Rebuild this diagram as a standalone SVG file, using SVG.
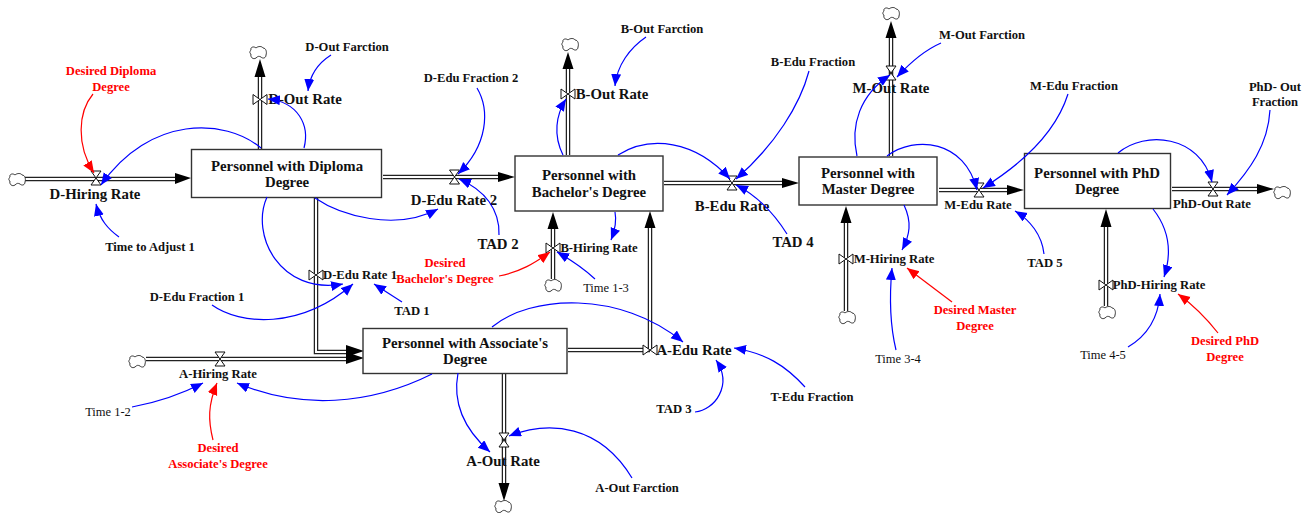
<svg xmlns="http://www.w3.org/2000/svg" width="1307" height="513" viewBox="0 0 1307 513">
<style>
text{font-family:"Liberation Serif","Times New Roman",serif;font-weight:bold;fill:#111;text-anchor:middle}
.st{font-size:14.8px}.lg{font-size:14.8px}.md{font-size:12.7px}.sm{font-size:12.6px}
.reg{font-size:12.5px;font-weight:normal}
.red{fill:#ff0000}
rect.box{fill:#fff;stroke:#333;stroke-width:1.4}
.po{fill:none;stroke:#222;stroke-width:4.5}
.pi{fill:none;stroke:#fff;stroke-width:2}
.b{fill:none;stroke:#0000ff;stroke-width:1.2;marker-end:url(#ab)}
.r{fill:none;stroke:#ff0000;stroke-width:1.2;marker-end:url(#ar)}
.ah{fill:#000}
.v{fill:#fff;stroke:#111;stroke-width:1}
.c{fill:#fff;stroke:#222;stroke-width:.9}
</style>
<defs>
<marker id="ab" markerUnits="userSpaceOnUse" markerWidth="13" markerHeight="11" refX="12" refY="5" orient="auto"><path d="M0,0L12,5L0,10z" fill="#0000ff"/></marker>
<marker id="ar" markerUnits="userSpaceOnUse" markerWidth="13" markerHeight="11" refX="12" refY="5" orient="auto"><path d="M0,0L12,5L0,10z" fill="#ff0000"/></marker>
<path id="vh" class="v" d="M-5,-7H5L-5,7H5z"/>
<path id="vv" class="v" d="M-7,-5V5L7,-5V5z"/>
<path id="cl" class="c" d="M-7,-3C-8,-6-4,-7-2,-5C0,-7 4,-7 5,-5C8,-5 9,-1 8,2C8,5 5,6 3,4C1,3 0,3-2,5C-5,7-8,4-7,1C-9,0-8,-2-7,-3z"/>
</defs>
<g id="pipes">
<path class="po" d="M25,179H178M260,149V76M383,177H500M568,155V68M553,279V228M664,183H784M650,350V228M891,156V37M939,190H1009M1172,189H1259M846,311V222M1106,306V226M316,198V352H348M146,359H348M568,350H650M504,374V484"/>
<path class="pi" d="M25,179H178M260,149V76M383,177H500M568,155V68M553,279V228M664,183H784M650,350V228M891,156V37M939,190H1009M1172,189H1259M846,311V222M1106,306V226M316,198V352H348M146,359H348M568,350H650M504,374V484"/>
<path class="ah" d="M175,173L191,178L175,184zM254.500,77L260,59L265.500,77zM498,172L515,177L498,182zM562.500,69L568,52L573.500,69zM547.500,229L553,212L558.500,229zM782,178L799,183L782,188zM644.500,228L650,211L655.500,228zM885.500,38L891,21L896.500,38zM1007,185L1024,190L1007,195zM1257,184L1274,189L1257,194zM840.500,223L846,206L851.500,223zM1100.500,227L1106,209L1111.500,227zM346,345L364,351L346,357zM346,352L364,358L346,364zM498.500,483L504,501L509.500,483z"/>
<use href="#cl" x="17" y="180"/><use href="#cl" x="258" y="53"/><use href="#cl" x="570" y="45"/><use href="#cl" x="553" y="286"/><use href="#cl" x="891" y="14"/><use href="#cl" x="1282" y="193"/><use href="#cl" x="847" y="318"/><use href="#cl" x="1107" y="313"/><use href="#cl" x="137" y="362"/><use href="#cl" x="503" y="507"/>
</g>
<g id="stock-diploma"><rect class="box" x="191.500" y="149.500" width="190" height="48"/><text class="st" x="287" y="171">Personnel with Diploma</text><text class="st" x="287" y="187">Degree</text></g>
<g id="stock-bachelor"><rect class="box" x="515" y="156" width="148" height="55"/><text class="st" x="589" y="180">Personnel with</text><text class="st" x="589" y="197">Bachelor's Degree</text></g>
<g id="stock-master"><rect class="box" x="799" y="157" width="138" height="48"/><text class="st" x="868" y="178">Personnel with</text><text class="st" x="868" y="194">Master Degree</text></g>
<g id="stock-phd"><rect class="box" x="1024.500" y="153.500" width="146" height="55"/><text class="st" x="1097" y="178">Personnel with PhD</text><text class="st" x="1097" y="194">Degree</text></g>
<g id="stock-associate"><rect class="box" x="363" y="328.500" width="204" height="45"/><text class="st" x="465" y="348">Personnel with Associate's</text><text class="st" x="465" y="364">Degree</text></g>
<g id="rate-d-hiring"><use href="#vh" x="96" y="178"/><text class="lg" x="95" y="199">D-Hiring Rate</text></g>
<g id="rate-d-out"><use href="#vv" x="260" y="99.500"/><text class="lg" x="305" y="104">D-Out Rate</text></g>
<g id="rate-d-edu-2"><use href="#vh" x="454.500" y="177"/><text class="lg" x="454" y="205">D-Edu Rate 2</text></g>
<g id="rate-d-edu-1"><use href="#vv" x="316" y="275"/><text class="md" x="360" y="279">D-Edu Rate 1</text></g>
<g id="rate-a-hiring"><use href="#vh" x="220" y="359"/><text class="md" x="218" y="378">A-Hiring Rate</text></g>
<g id="rate-b-out"><use href="#vv" x="568" y="94"/><text class="lg" x="612" y="99">B-Out Rate</text></g>
<g id="rate-b-hiring"><use href="#vv" x="553" y="248"/><text class="md" x="599" y="252">B-Hiring Rate</text></g>
<g id="rate-b-edu"><use href="#vh" x="732" y="183"/><text class="lg" x="732" y="211">B-Edu Rate</text></g>
<g id="rate-a-edu"><use href="#vv" x="650" y="350"/><text class="lg" x="694" y="355">A-Edu Rate</text></g>
<g id="rate-a-out"><use href="#vh" x="504" y="440"/><text class="lg" x="503" y="466">A-Out Rate</text></g>
<g id="rate-m-out"><use href="#vh" x="891" y="73"/><text class="lg" x="891" y="93">M-Out Rate</text></g>
<g id="rate-m-edu"><use href="#vh" x="979" y="190"/><text class="md" x="978" y="209">M-Edu Rate</text></g>
<g id="rate-m-hiring"><use href="#vv" x="846" y="259"/><text class="md" x="894" y="263">M-Hiring Rate</text></g>
<g id="rate-phd-out"><use href="#vh" x="1213" y="189"/><text class="md" x="1212" y="208">PhD-Out Rate</text></g>
<g id="rate-phd-hiring"><use href="#vv" x="1106" y="285"/><text class="md" x="1159" y="289">PhD-Hiring Rate</text></g>
<g id="connectors">
<path class="b" d="M331,55C320,62 310,72 308,91"/>
<path class="b" d="M304,148C310,125 298,102 268,99"/>
<path class="b" d="M261,148C225,118 150,115 101,185"/>
<path class="r" d="M93,94C78,112 76,145 94,173"/>
<path class="b" d="M119,237C108,229 100,220 96,204"/>
<path class="b" d="M315,198C340,215 395,232 438,209"/>
<path class="b" d="M267,197C250,235 280,295 343,284"/>
<path class="b" d="M212,305C240,325 300,330 353,284"/>
<path class="b" d="M402,302L374,284"/>
<path class="b" d="M132,407Q170,400 203,383"/>
<path class="r" d="M213,440C208,420 208,405 217,383"/>
<path class="b" d="M432,374C370,405 300,410 237,383"/>
<path class="b" d="M477,88C490,110 488,145 458,174"/>
<path class="b" d="M499,235C500,210 485,190 459,179"/>
<path class="b" d="M646,37C630,48 617,65 615,86"/>
<path class="b" d="M563,155C553,135 556,115 566,99"/>
<path class="b" d="M618,155C650,135 695,140 730,179"/>
<path class="b" d="M809,71C800,105 775,145 736,179"/>
<path class="b" d="M787,234C775,215 760,197 736,185"/>
<path class="b" d="M615,212C617,222 615,230 611,240"/>
<path class="r" d="M499,276C520,272 535,263 550,252"/>
<path class="b" d="M595,279Q580,265 557,252"/>
<path class="b" d="M941,43C925,50 908,65 897,77"/>
<path class="b" d="M857,156C850,125 860,95 890,75"/>
<path class="b" d="M887,156C915,135 965,140 977,190"/>
<path class="b" d="M1068,94C1055,135 1020,165 983,188"/>
<path class="b" d="M1044,254C1042,235 1030,220 1015,211"/>
<path class="b" d="M904,205C912,222 910,235 902,250"/>
<path class="r" d="M952,302L907,268"/>
<path class="b" d="M896,350C890,325 889,300 892,268"/>
<path class="b" d="M1118,153C1145,130 1200,135 1212,182"/>
<path class="b" d="M1270,110C1268,145 1250,170 1227,195"/>
<path class="b" d="M1153,209C1168,228 1173,250 1164,277"/>
<path class="b" d="M1128,347C1145,337 1158,320 1160,294"/>
<path class="r" d="M1218,333Q1200,310 1178,294"/>
<path class="b" d="M492,327C530,295 620,290 683,342"/>
<path class="b" d="M805,387C785,365 765,353 734,348"/>
<path class="b" d="M695,412C715,410 733,385 716,360"/>
<path class="b" d="M632,478C600,425 550,420 509,436"/>
<path class="b" d="M458,373C452,405 465,430 490,452"/>
</g>
<g id="aux-desired-diploma"><text class="sm red" x="111" y="75">Desired Diploma</text><text class="sm red" x="111" y="91">Degree</text></g>
<g id="aux-d-out-fraction"><text class="sm" x="347" y="51">D-Out Farction</text></g>
<g id="aux-time-adjust"><text class="sm" x="150" y="251">Time to Adjust 1</text></g>
<g id="aux-d-edu-f1"><text class="sm" x="197" y="301">D-Edu Fraction 1</text></g>
<g id="aux-tad1"><text class="md" x="412" y="315">TAD 1</text></g>
<g id="aux-time12"><text class="reg" x="108" y="416">Time 1-2</text></g>
<g id="aux-desired-assoc"><text class="sm red" x="218" y="452">Desired</text><text class="sm red" x="218" y="468">Associate's Degree</text></g>
<g id="aux-d-edu-f2"><text class="sm" x="471" y="82">D-Edu Fraction 2</text></g>
<g id="aux-tad2"><text class="lg" x="498" y="249">TAD 2</text></g>
<g id="aux-desired-bach"><text class="sm red" x="445" y="267">Desired</text><text class="sm red" x="445" y="283">Bachelor's Degree</text></g>
<g id="aux-b-out-f"><text class="sm" x="662" y="33">B-Out Farction</text></g>
<g id="aux-time13"><text class="reg" x="606" y="292">Time 1-3</text></g>
<g id="aux-b-edu-f"><text class="sm" x="813" y="66">B-Edu Fraction</text></g>
<g id="aux-tad4"><text class="lg" x="793" y="247">TAD 4</text></g>
<g id="aux-m-out-f"><text class="sm" x="982" y="39">M-Out Farction</text></g>
<g id="aux-m-edu-f"><text class="sm" x="1074" y="90">M-Edu Fraction</text></g>
<g id="aux-phd-out-f"><text class="sm" x="1275" y="91">PhD- Out</text><text class="sm" x="1275" y="106">Fraction</text></g>
<g id="aux-tad5"><text class="md" x="1045" y="267">TAD 5</text></g>
<g id="aux-time34"><text class="reg" x="898" y="363">Time 3-4</text></g>
<g id="aux-desired-master"><text class="sm red" x="975" y="314">Desired Master</text><text class="sm red" x="975" y="330">Degree</text></g>
<g id="aux-time45"><text class="reg" x="1103" y="359">Time 4-5</text></g>
<g id="aux-desired-phd"><text class="sm red" x="1225" y="345">Desired PhD</text><text class="sm red" x="1225" y="361">Degree</text></g>
<g id="aux-t-edu-f"><text class="sm" x="812" y="401">T-Edu Fraction</text></g>
<g id="aux-tad3"><text class="md" x="674" y="413">TAD 3</text></g>
<g id="aux-a-out-f"><text class="sm" x="637" y="492">A-Out Farction</text></g>
</svg>
